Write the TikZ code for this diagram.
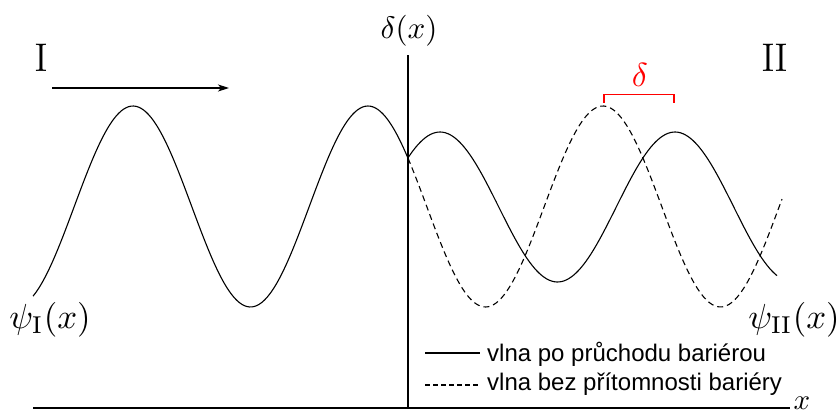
\documentclass[tikz,border=0pt]{standalone}
\usepackage{fontspec}
\newfontfamily\legendfont{Liberation Sans}
\usetikzlibrary{arrows.meta}
\begin{document}
\begin{tikzpicture}[x=1pt,y=-1pt,
  axisline/.style={line width=1.6pt},
  wave/.style={line width=1.1pt},
  dwave/.style={line width=1.1pt,dash pattern=on 6pt off 4pt},
  biglabel/.style={inner sep=0pt,scale=2.9},
  romanlabel/.style={inner sep=0pt,xscale=3.3,yscale=4.0},
  legtext/.style={font=\legendfont\fontsize{24}{26}\selectfont,anchor=west,inner sep=0pt}]
\clip (0,0) rectangle (840,414);
\useasboundingbox (0,0) rectangle (840,414);
% axes
\coordinate (xl) at (33,408);
\coordinate (xr) at (790,408);
\coordinate (yb) at (408,408);
\coordinate (yt) at (408,55);
\draw[axisline] (xl) -- (xr);
\draw[axisline] (yb) -- (yt);
\node[biglabel,scale=1.07] (dlab) at (409,31) {$\delta(x)$};
\node[biglabel] (xlab) at (802,403) {$x$};
% region labels
\node[romanlabel] (r1) at (41,58) {I};
\node[romanlabel] (r2) at (775,58) {II};
\coordinate (a1) at (52,88);
\coordinate (a2) at (229,88);
\draw[line width=1.1pt,-{Stealth[length=11pt,width=7pt,inset=3pt]}] (a1) -- (a2);
% waves
\draw[wave] plot[domain=33:408,samples=150,smooth] (\x,{206.5-100.5*cos((\x-368)*1.53191)});
\draw[dwave] plot[domain=408:782,samples=150,smooth] (\x,{206.5-100.5*cos((\x-368)*1.53191)});
\draw[wave] plot[domain=408:777,samples=150,smooth] (\x,{207-75*cos((\x-675)*1.53191)});
\node[biglabel,scale=1.2] (psi1) at (50,320) {$\psi_{\mathrm{I}}(x)$};
\node[biglabel,scale=1.2] (psi2) at (794,320) {$\psi_{\mathrm{II}}(x)$};
% delta bracket
\coordinate (b1) at (604,103);
\coordinate (b2) at (604,94.5);
\coordinate (b3) at (674,94.5);
\coordinate (b4) at (674,103);
\draw[red,line width=1.1pt] (b1) -- (b2) -- (b3) -- (b4);
\node[biglabel,red,scale=1.15] (dd) at (640,75) {$\delta$};
% legend
\coordinate (l1a) at (425,353);
\coordinate (l1b) at (480,353);
\coordinate (l2a) at (425,385);
\coordinate (l2b) at (480,385);
\draw[wave] (l1a) -- (l1b);
\draw[wave,dash pattern=on 5pt off 3pt] (l2a) -- (l2b);
\node[legtext] (t1) at (487,354) {vlna po průchodu bariérou};
\node[legtext] (t2) at (487,384) {vlna bez přítomnosti bariéry};
\end{tikzpicture}
\end{document}
